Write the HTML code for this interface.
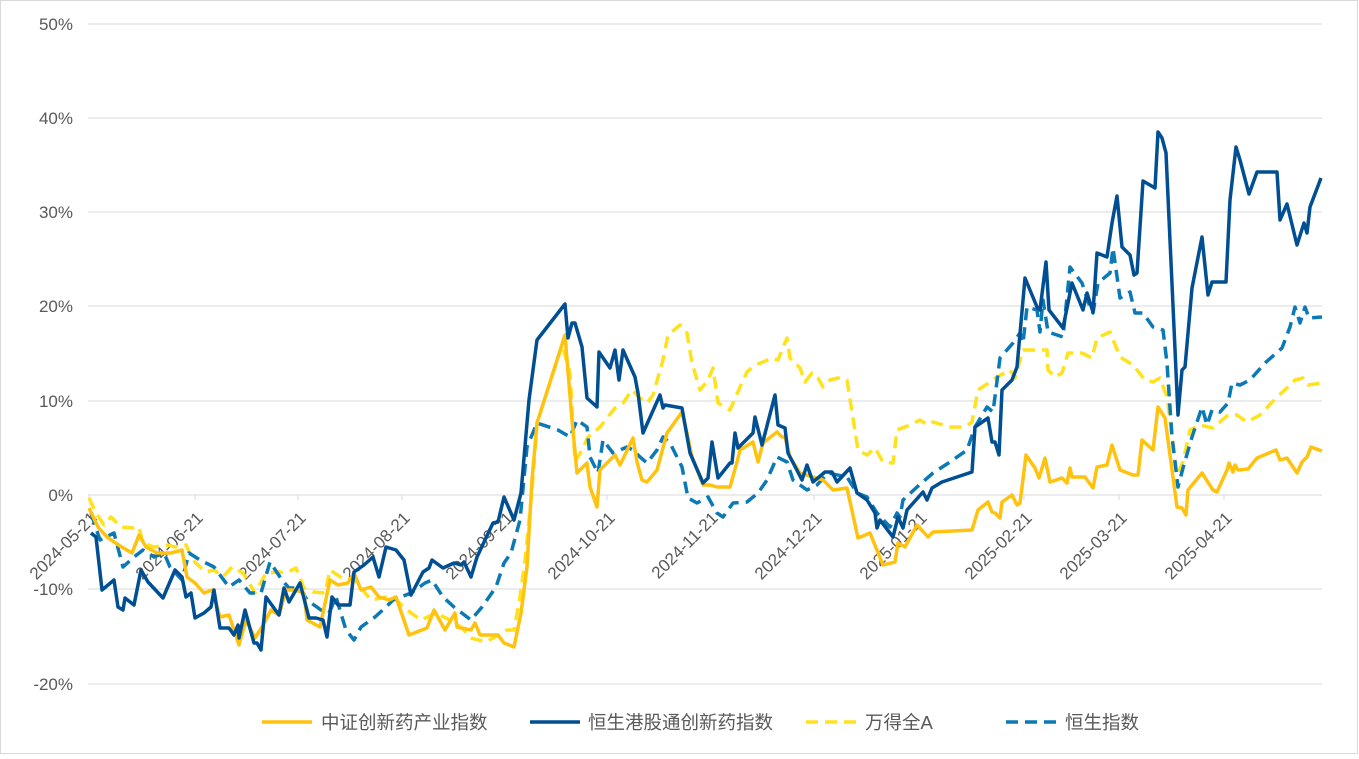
<!DOCTYPE html>
<html><head><meta charset="utf-8"><style>
body{margin:0;background:#fff;}
svg text{font-family:"Liberation Sans","Noto Sans CJK SC",sans-serif;fill:#595959;}
</style></head><body>
<svg width="1359" height="754" viewBox="0 0 1359 754" xmlns="http://www.w3.org/2000/svg">
<rect x="0.5" y="0.5" width="1357" height="753" fill="#fff" stroke="#d9d9d9"/>
<g stroke="#d9d9d9" stroke-width="1">
<line x1="88" y1="24" x2="1322" y2="24"/><line x1="88" y1="118" x2="1322" y2="118"/>
<line x1="88" y1="212" x2="1322" y2="212"/><line x1="88" y1="306" x2="1322" y2="306"/>
<line x1="88" y1="401" x2="1322" y2="401"/><line x1="88" y1="495" x2="1322" y2="495"/>
<line x1="88" y1="589" x2="1322" y2="589"/><line x1="88" y1="684" x2="1322" y2="684"/>
<line x1="89" y1="495" x2="89" y2="500"/><line x1="195" y1="495" x2="195" y2="500"/><line x1="298" y1="495" x2="298" y2="500"/><line x1="402" y1="495" x2="402" y2="500"/><line x1="505" y1="495" x2="505" y2="500"/><line x1="607" y1="495" x2="607" y2="500"/><line x1="710" y1="495" x2="710" y2="500"/><line x1="814" y1="495" x2="814" y2="500"/><line x1="919" y1="495" x2="919" y2="500"/><line x1="1024" y1="495" x2="1024" y2="500"/><line x1="1119" y1="495" x2="1119" y2="500"/><line x1="1224" y1="495" x2="1224" y2="500"/>
</g>
<g font-size="17" text-anchor="end">
<text x="73" y="30">50%</text><text x="73" y="124">40%</text><text x="73" y="218">30%</text><text x="73" y="312">20%</text><text x="73" y="407">10%</text><text x="73" y="501">0%</text><text x="73" y="595">-10%</text><text x="73" y="690">-20%</text>
</g>
<g font-size="17" text-anchor="end">
<text transform="translate(98,519) rotate(-45)">2024-05-21</text>
<text transform="translate(204,519) rotate(-45)">2024-06-21</text>
<text transform="translate(307,519) rotate(-45)">2024-07-21</text>
<text transform="translate(411,519) rotate(-45)">2024-08-21</text>
<text transform="translate(514,519) rotate(-45)">2024-09-21</text>
<text transform="translate(616,519) rotate(-45)">2024-10-21</text>
<text transform="translate(719,519) rotate(-45)">2024-11-21</text>
<text transform="translate(823,519) rotate(-45)">2024-12-21</text>
<text transform="translate(928,519) rotate(-45)">2025-01-21</text>
<text transform="translate(1033,519) rotate(-45)">2025-02-21</text>
<text transform="translate(1128,519) rotate(-45)">2025-03-21</text>
<text transform="translate(1233,519) rotate(-45)">2025-04-21</text>
</g>
<g fill="none" stroke-width="3.5" stroke-linejoin="round">
<polyline stroke="#ffe21c" stroke-dasharray="12,7" points="89,498 96,513 104,525 111,517 121,527 134,528 139,527 143,543 154,547 168,545 175,547 186,545 193,560 205,572 214,570 223,577 232,567 243,573 255,593 266,573 279,572 286,573 296,568 304,588 314,592 325,593 330,570 345,580 354,578 357,583 371,600 386,597 396,600 411,613 421,620 436,613 450,620 461,627 471,638 486,642 507,630 514,630 520,597 525,560 532,490 537,423 562,345 570,373 575,462 582,450 588,437 600,427 615,408 623,403 632,390 640,398 647,403 653,395 663,360 668,335 680,325 687,333 692,363 700,390 708,380 713,368 718,403 730,410 740,387 747,372 755,365 763,362 772,358 778,360 787,338 790,358 800,368 805,382 812,373 818,378 823,387 830,380 838,378 847,380 858,450 867,455 875,448 883,462 893,463 897,430 910,425 920,420 928,425 933,422 950,427 965,427 972,422 978,390 990,382 997,377 1010,370 1015,378 1023,350 1037,350 1047,350 1048,370 1055,377 1062,373 1068,353 1082,353 1092,358 1097,338 1110,332 1120,357 1133,365 1145,380 1153,382 1160,378 1167,397 1173,443 1177,475 1183,462 1190,430 1200,425 1213,428 1228,415 1237,415 1247,422 1260,415 1277,397 1287,388 1295,380 1303,378 1308,385 1322,383"/>
<polyline stroke="#0a79b5" stroke-dasharray="12,7" points="91,513 100,540 114,533 123,567 134,557 143,550 154,557 164,553 170,567 182,580 189,553 200,560 214,567 229,587 239,580 250,593 261,593 270,562 282,580 289,588 300,588 307,600 321,610 329,613 336,597 346,630 354,640 361,627 375,617 386,607 393,600 411,593 425,583 432,580 443,597 454,607 471,620 482,607 496,587 504,563 511,553 520,520 527,447 537,423 558,430 570,437 577,420 587,427 590,457 598,473 603,440 613,453 627,447 633,450 640,457 647,463 657,450 663,437 670,443 682,467 688,498 697,503 708,497 717,513 723,517 733,503 747,502 758,493 767,480 777,457 787,462 793,480 807,490 817,485 828,473 847,477 857,493 867,497 877,513 890,527 897,513 900,517 903,500 917,487 933,473 950,462 967,450 975,427 987,407 993,412 1000,358 1013,343 1020,333 1023,343 1027,307 1037,310 1040,332 1043,300 1048,332 1057,335 1063,337 1067,297 1070,267 1082,283 1090,307 1093,313 1098,283 1110,273 1113,248 1120,298 1130,292 1135,313 1143,313 1153,327 1163,330 1167,363 1172,437 1178,487 1183,468 1192,437 1202,407 1207,425 1212,410 1220,412 1228,403 1232,383 1240,385 1250,380 1265,363 1282,348 1290,327 1295,307 1300,323 1305,307 1309,318 1322,317"/>
<polyline stroke="#ffc20e" points="89,508 98,527 107,537 120,546 132,553 139,535 146,547 157,553 171,553 182,550 187,577 195,583 204,593 212,590 220,617 229,615 239,645 246,620 255,638 262,627 271,610 279,615 286,590 295,590 304,593 307,620 320,627 330,580 338,585 348,583 354,573 361,590 371,587 379,597 389,600 396,597 409,635 427,628 434,610 445,630 455,613 457,627 471,630 475,623 480,635 498,635 504,643 514,647 521,613 527,567 532,480 537,423 565,335 572,420 577,473 587,463 590,487 597,507 600,470 615,455 620,465 633,438 637,462 642,480 647,482 657,470 667,433 682,412 687,433 692,457 703,485 710,485 717,487 730,487 737,462 740,450 753,442 758,462 763,443 777,432 782,437 785,437 790,457 800,473 813,477 823,480 833,490 847,488 858,538 870,533 883,565 895,562 898,543 905,547 917,525 928,537 933,532 972,530 978,510 988,502 992,512 995,513 1000,518 1002,502 1012,495 1017,505 1020,503 1026,455 1035,468 1039,478 1045,458 1050,482 1062,478 1067,483 1070,468 1072,477 1085,477 1093,488 1097,467 1107,465 1112,445 1120,470 1133,475 1138,475 1142,440 1153,450 1158,407 1165,418 1177,507 1182,508 1186,515 1188,490 1202,473 1213,490 1217,492 1227,470 1229,463 1233,472 1235,465 1238,470 1248,469 1257,458 1276,450 1280,460 1287,458 1297,473 1302,462 1307,457 1311,447 1322,451"/>
<polyline stroke="#004f93" points="91,533 96,537 102,590 114,580 118,607 123,610 125,598 134,605 141,570 148,582 163,598 175,570 182,577 186,597 191,593 195,618 204,613 211,607 214,590 220,628 229,628 234,635 238,625 239,638 245,610 254,643 257,643 261,650 266,597 279,615 284,588 289,602 300,583 309,618 316,618 323,620 327,637 332,597 338,605 350,605 354,572 364,565 373,557 379,577 386,547 396,550 404,560 411,595 423,572 429,568 432,560 443,568 454,563 461,565 464,562 471,577 477,557 493,523 498,522 504,497 514,520 521,493 527,423 529,400 537,340 565,304 568,338 572,323 575,323 582,347 587,398 597,407 599,352 610,368 615,350 619,380 623,350 635,377 638,393 643,433 660,395 663,408 665,405 682,408 690,453 703,483 708,478 712,442 718,478 730,463 732,463 735,433 738,448 753,433 755,417 762,445 775,395 778,425 785,428 788,453 802,480 807,465 813,482 825,472 832,472 837,482 850,468 857,493 867,500 875,513 877,528 880,520 893,537 898,517 903,528 907,510 923,492 927,500 932,488 942,482 972,472 975,427 988,418 992,442 995,442 999,455 1002,390 1012,380 1017,367 1025,278 1037,307 1040,310 1046,262 1049,310 1063,328 1072,283 1083,310 1087,293 1093,312 1097,253 1107,257 1112,223 1117,196 1122,247 1130,255 1134,275 1137,273 1143,181 1155,188 1158,132 1162,138 1166,153 1178,415 1182,370 1185,367 1192,288 1202,237 1208,295 1212,282 1226,282 1230,200 1236,147 1240,160 1249,194 1257,172 1277,172 1280,220 1287,204 1297,245 1304,223 1307,233 1310,207 1321,178"/>
</g>
<g stroke-width="3.5">
<line x1="262" y1="722" x2="312" y2="722" stroke="#ffc20e"/>
<line x1="530" y1="722" x2="580" y2="722" stroke="#004f93"/>
<line x1="806" y1="722" x2="856" y2="722" stroke="#ffe21c" stroke-dasharray="12,7"/>
<line x1="1006" y1="722" x2="1056" y2="722" stroke="#0a79b5" stroke-dasharray="12,7"/>
</g>
<g font-size="18.5">
<text x="321" y="729">中证创新药产业指数</text>
<text x="588" y="729">恒生港股通创新药指数</text>
<text x="865" y="729">万得全A</text>
<text x="1065" y="729">恒生指数</text>
</g>
</svg>
</body></html>
